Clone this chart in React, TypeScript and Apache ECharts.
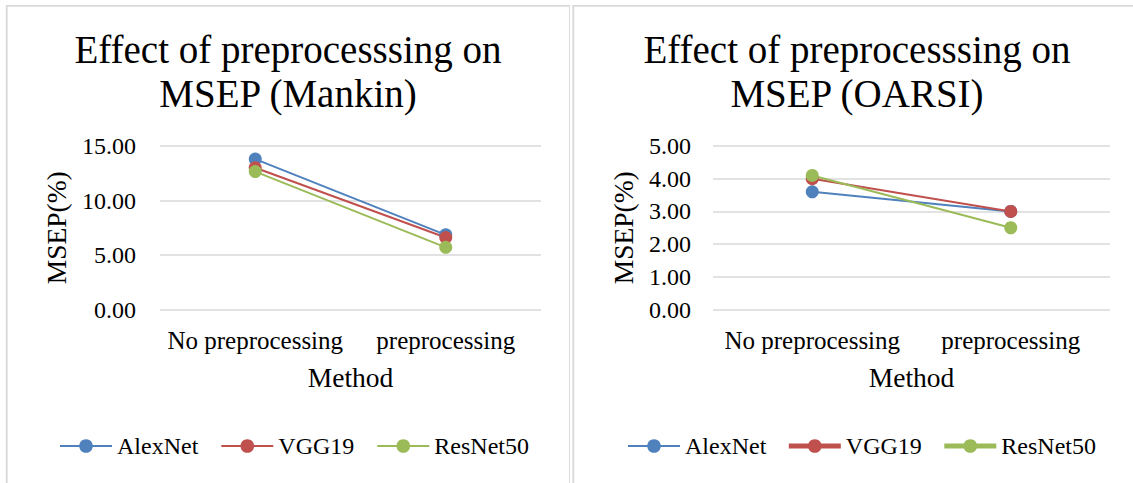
import React, { useEffect, useRef } from "react";
import * as echarts from "echarts";

// Categories on the x axis
const methods = ["No preprocessing", "preprocessing"];
const modelNames = ["AlexNet", "VGG19", "ResNet50"];
const modelColors = ["#4F81BD", "#C0504D", "#9BBB59"];

// MSEP (%) for the Mankin score
const mankinAlexNet = [13.8, 6.85];
const mankinVGG19 = [13.0, 6.6];
const mankinResNet50 = [12.65, 5.7];

// MSEP (%) for the OARSI score
const oarsiAlexNet = [3.6, 3.0];
const oarsiVGG19 = [4.0, 3.0];
const oarsiResNet50 = [4.1, 2.5];

const FONT = "'Liberation Serif', 'Times New Roman', serif";
const TEXT = "#000000";
const GRID_LINE = "#D9D9D9";

type PanelCfg = {
  title: string;
  values: number[][];
  yMax: number;
  yInterval: number;
  gridLeft: number;
  gridRight: number;
  yLabelMargin: number;
  yNameGap: number;
  legendLeft: number;
  legendGap: number;
  legendLineWidths: number[];
  border: { x: number; y: number; width: number; height: number };
};

function buildOption(cfg: PanelCfg) {
  return {
    animation: false,
    backgroundColor: "#ffffff",
    title: {
      text: cfg.title,
      left: "center",
      top: 27.5,
      padding: 0,
      textStyle: {
        fontFamily: FONT,
        fontSize: 39,
        lineHeight: 44,
        fontWeight: "normal",
        color: TEXT,
      },
    },
    graphic: [
      {
        type: "rect",
        shape: cfg.border,
        style: { fill: "none", stroke: GRID_LINE, lineWidth: 1.8 },
        silent: true,
      },
    ],
    legend: {
      left: cfg.legendLeft,
      top: 432,
      itemWidth: 52,
      itemHeight: 17,
      itemGap: cfg.legendGap,
      padding: 0,
      textStyle: { fontFamily: FONT, fontSize: 24, color: TEXT, lineHeight: 28 },
      data: modelNames.map((name, i) => ({
        name,
        lineStyle: { width: cfg.legendLineWidths[i] },
      })),
    },
    grid: {
      left: cfg.gridLeft,
      right: cfg.gridRight,
      top: 146,
      bottom: 173.5,
      containLabel: false,
    },
    xAxis: {
      type: "category",
      data: methods,
      boundaryGap: true,
      name: "Method",
      nameLocation: "middle",
      nameGap: 52.5,
      nameTextStyle: { fontFamily: FONT, fontSize: 27.5, color: TEXT, lineHeight: 30 },
      axisLine: { show: false },
      axisTick: { show: false },
      axisLabel: {
        fontFamily: FONT,
        fontSize: 25,
        lineHeight: 28,
        color: TEXT,
        margin: 16.5,
        interval: 0,
      },
      splitLine: { show: false },
    },
    yAxis: {
      type: "value",
      min: 0,
      max: cfg.yMax,
      interval: cfg.yInterval,
      name: "MSEP(%)",
      nameLocation: "middle",
      nameGap: cfg.yNameGap,
      nameTextStyle: { fontFamily: FONT, fontSize: 27.5, color: TEXT, lineHeight: 30 },
      axisLine: { show: false },
      axisTick: { show: false },
      axisLabel: {
        fontFamily: FONT,
        fontSize: 24,
        color: TEXT,
        margin: cfg.yLabelMargin,
        formatter: (v: number) => v.toFixed(2),
      },
      splitLine: { show: true, lineStyle: { color: GRID_LINE, width: 1.6 } },
    },
    series: modelNames.map((name, i) => ({
      name,
      type: "line",
      data: cfg.values[i],
      symbol: "circle",
      symbolSize: 13,
      showSymbol: true,
      color: modelColors[i],
      lineStyle: { color: modelColors[i], width: 2 },
      itemStyle: { color: modelColors[i], borderWidth: 0 },
      emphasis: { disabled: true },
    })),
  };
}

function Panel(props: { cfg: PanelCfg; style: React.CSSProperties }) {
  const ref = useRef<HTMLDivElement>(null);
  useEffect(() => {
    if (!ref.current) return;
    const chart = echarts.init(ref.current, null, { renderer: "svg" });
    chart.setOption(buildOption(props.cfg));
    return () => chart.dispose();
  }, []);
  return <div ref={ref} style={props.style} />;
}

const mankinPanel: PanelCfg = {
  title: "Effect of preprocesssing on\nMSEP (Mankin)",
  values: [mankinAlexNet, mankinVGG19, mankinResNet50],
  yMax: 15,
  yInterval: 5,
  gridLeft: 160,
  gridRight: 35,
  yLabelMargin: 24,
  yNameGap: 88,
  legendLeft: 59,
  legendGap: 22,
  legendLineWidths: [2, 2, 2],
  border: { x: 6.7, y: 5.8, width: 563.3, height: 600 },
};

const oarsiPanel: PanelCfg = {
  title: "Effect of preprocesssing on\nMSEP (OARSI)",
  values: [oarsiAlexNet, oarsiVGG19, oarsiResNet50],
  yMax: 5,
  yInterval: 1,
  gridLeft: 143,
  gridRight: 34,
  yLabelMargin: 22,
  yNameGap: 73,
  legendLeft: 57,
  legendGap: 20,
  legendLineWidths: [2, 5, 5],
  border: { x: 3.3, y: 5.8, width: 600, height: 600 },
};

export default function App() {
  return (
    <div
      style={{
        position: "fixed",
        left: 0,
        top: 0,
        width: 1133,
        height: 483,
        overflow: "hidden",
        background: "#ffffff",
      }}
    >
      <Panel
        cfg={mankinPanel}
        style={{ position: "absolute", left: 0, top: 0, width: 576, height: 483 }}
      />
      <Panel
        cfg={oarsiPanel}
        style={{ position: "absolute", left: 570, top: 0, width: 574, height: 483 }}
      />
    </div>
  );
}
